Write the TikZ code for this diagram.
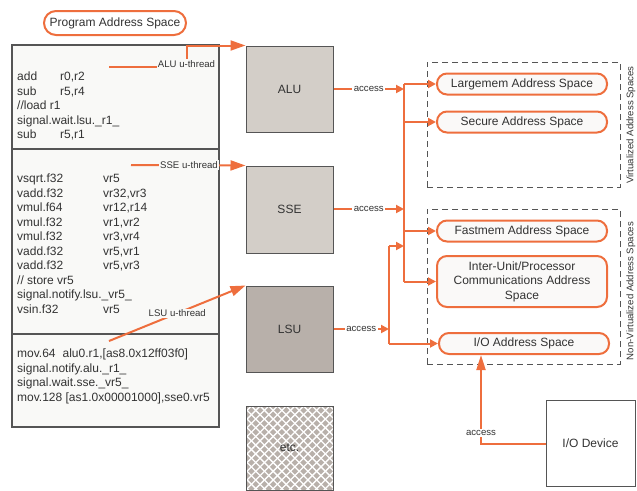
\documentclass[tikz,border=0pt]{standalone}
\usepackage{fontspec}
\setmainfont{Liberation Sans}
\usepackage{xcolor}
\usetikzlibrary{arrows.meta}

\definecolor{accent}{HTML}{EE6E3D}
\definecolor{unitfill}{HTML}{D3CEC8}
\definecolor{lsufill}{HTML}{B8B0AA}
\definecolor{codefill}{HTML}{F9F9F7}
\definecolor{spacefill}{HTML}{FAF9F8}
\definecolor{edgegray}{HTML}{555555}
\definecolor{ink}{HTML}{333333}

\newcommand\bodysize{\fontsize{12}{14.5}\selectfont}
\newcommand\tagsize{\fontsize{9.6}{11.5}\selectfont}
\newcommand\opcol[2]{\makebox[#1][l]{#2}}

\begin{document}
\begin{tikzpicture}[x=1pt, y=-1pt,
  every node/.append style={text=ink},
  unit/.style={draw=edgegray, line width=1pt, fill=unitfill, minimum width=87pt, minimum height=86pt, inner sep=0pt, font=\bodysize},
  section/.style={draw=edgegray, line width=1.2pt, fill=codefill, minimum width=207pt, inner sep=0pt},
  codetext/.style={anchor=base west, inner sep=0pt, font=\bodysize},
  space/.style={draw=accent, line width=2pt, fill=spacefill, rounded corners=10pt, minimum width=170pt, minimum height=21pt, inner sep=1pt, font=\bodysize},
  region/.style={draw=edgegray, line width=0.9pt, dash pattern=on 6pt off 4pt, minimum width=193pt, inner sep=0pt},
  flow/.style={draw=accent, line width=2pt},
  access/.style={flow, >={Triangle[length=8pt,width=8pt]}, ->},
  thread/.style={flow, >={Triangle[length=15pt,width=10pt]}, ->},
  tag/.style={fill=white, inner sep=1.5pt, font=\tagsize},
  side/.style={rotate=90, inner sep=0pt, font=\tagsize},
]
\useasboundingbox (0,0) rectangle (637,490);

% program address space
\node [draw=accent, line width=2pt, fill=white, rounded corners=12pt, minimum width=142pt, minimum height=24pt, font=\bodysize] (prog) at (115,23) {Program Address Space};

\node [section, minimum height=104pt] (alucode) at (115.5,97) {};
\node [section, minimum height=185pt] (ssecode) at (115.5,241.5) {};
\node [section, minimum height=93pt] (lsucode) at (115.5,380.5) {};

\node [codetext] (aluasm) at (17,80.5) {\begin{tabular}[t]{@{}l@{}}
\opcol{43pt}{add}r0,r2\\
\opcol{43pt}{sub}r5,r4\\
//load r1\\
signal.wait.lsu.\_r1\_\\
\opcol{43pt}{sub}r5,r1
\end{tabular}};
\node [codetext] (sseasm) at (17,182.5) {\begin{tabular}[t]{@{}l@{}}
\opcol{86pt}{vsqrt.f32}vr5\\
\opcol{86pt}{vadd.f32}vr32,vr3\\
\opcol{86pt}{vmul.f64}vr12,r14\\
\opcol{86pt}{vmul.f32}vr1,vr2\\
\opcol{86pt}{vmul.f32}vr3,vr4\\
\opcol{86pt}{vadd.f32}vr5,vr1\\
\opcol{86pt}{vadd.f32}vr5,vr3\\
// store vr5\\
signal.notify.lsu.\_vr5\_\\
\opcol{86pt}{vsin.f32}vr5
\end{tabular}};
\node [codetext] (lsuasm) at (17,357.5) {\begin{tabular}[t]{@{}l@{}}
mov.64\hspace{7pt}alu0.r1,[as8.0x12ff03f0]\\
signal.notify.alu.\_r1\_\\
signal.wait.sse.\_vr5\_\\
mov.128 [as1.0x00001000],sse0.vr5
\end{tabular}};

% execution units
\node [unit] (alu) at (289.5,89) {ALU};
\node [unit, minimum height=87pt] (sse) at (289.5,209.5) {SSE};
\node [unit, fill=lsufill] (lsu) at (289.5,329) {LSU};
\node [unit, fill=lsufill, minimum height=84pt, path picture={
  \foreach \k in {-99,-90.3,...,99} {
    \draw [white, line width=1.3pt] ([xshift=\k pt]path picture bounding box.north west) -- ++(110,110);
    \draw [white, line width=1.3pt] ([xshift=\k pt]path picture bounding box.north east) -- ++(-110,110);
  }}] (etc) at (289.5,448) {etc.};

% u-threads
\coordinate (alustart) at (109,67);
\coordinate (ssestart) at (131,165);
\coordinate (lsustart) at (109,341);
\draw [thread] (alustart) -- (187,67) |- (alu.north west);
\node [tag, fill=codefill, inner sep=1pt] (alutag) at (186.5,64) {ALU u-thread};
\draw [thread] (ssestart) -- (sse.north west -| alu.west);
\node [tag, fill=codefill, inner sep=1pt] (ssetag) at (189,165) {SSE u-thread};
\draw [thread] (lsustart) -- node [tag, fill=codefill, inner sep=1pt] (lsutag) {LSU u-thread} (lsu.north west);

% address spaces
\node [region, minimum height=125pt] (virt) at (523.5,124.5) {};
\node [region, minimum height=155pt] (nonvirt) at (523.5,286.5) {};
\node [side] (virtlbl) at (631,125) {Virtualized Address Spaces};
\node [side] (nonvirtlbl) at (631,291) {Non-Virtualized Address Spaces};

\node [space] (large) at (522,84) {Largemem Address Space};
\node [space] (secure) at (522,122) {Secure Address Space};
\node [space] (fast) at (522,231) {Fastmem Address Space};
\node [space, minimum height=51pt, align=center] (inter) at (522,281.5) {Inter-Unit/Processor\\Communications Address\\Space};
\node [space] (io) at (524,343.5) {I/O Address Space};

\node [draw=edgegray, line width=1pt, fill=white, minimum width=89pt, minimum height=86pt, font=\bodysize] (iodev) at (590.5,443.5) {I/O Device};

% access paths
\coordinate (jalu) at (404,89);
\coordinate (jsse) at (404,209);
\coordinate (jmid) at (404,246);
\coordinate (jlsu) at (389,329);
\draw [access] (alu.east) -- node [tag] (alutagb) {access} (jalu);
\draw [access] (sse.east |- jsse) -- node [tag] (ssetagb) {access} (jsse);
\draw [access] (lsu.east) -- node [tag] (lsutagb) {access} (jlsu);
\draw [flow] (jalu |- large.west) -- (jalu |- inter.west);
\draw [access] (jalu |- large.west) -- (large.west);
\draw [access] (jalu |- secure.west) -- (secure.west);
\draw [access] (jalu |- fast.west) -- (fast.west);
\draw [access] (jalu |- inter.west) -- (inter.west);
\draw [flow] (jlsu |- jmid) -- (jlsu |- io.west);
\draw [access] (jlsu |- jmid) -- (jmid);
\draw [access] (jlsu |- io.west) -- (io.west);

\coordinate (iobend) at (481,443.5);
\draw [flow, >={Triangle[length=15pt,width=9pt]}, ->] (iodev.west) -- (iobend) -- node [tag, pos=0.12] (iotag) {access} (iobend |- io.south);
\end{tikzpicture}
\end{document}
